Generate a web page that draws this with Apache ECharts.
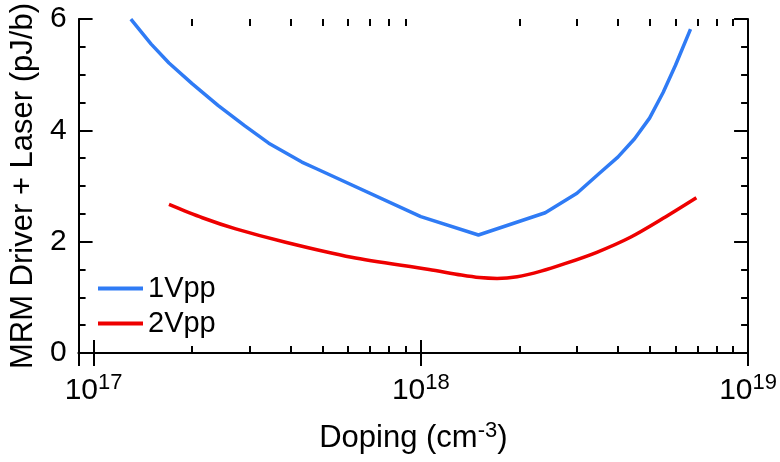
<!DOCTYPE html>
<html>
<head>
<meta charset="utf-8">
<script src="https://cdn.jsdelivr.net/npm/echarts@6/dist/echarts.min.js"></script>
<style>html,body{margin:0;padding:0;background:#fff}#c{width:780px;height:462px}</style>
</head>
<body>
<div id="c"></div>
<script>
// ---- data ----
const doping1Vpp = [1.3e17, 1.5e17, 1.7e17, 2.0e17, 2.4e17, 2.9e17, 3.43e17, 4.33e17, 4.8e17, 1.0e18, 1.5e18, 2.4e18, 3.0e18, 3.5e18, 4.0e18, 4.5e18, 5.0e18, 5.5e18, 6.0e18, 6.67e18];
const energy1Vpp = [6.0, 5.55, 5.21, 4.84, 4.45, 4.08, 3.77, 3.43, 3.31, 2.45, 2.12, 2.52, 2.87, 3.22, 3.52, 3.85, 4.22, 4.68, 5.17, 5.82];
const doping2Vpp = [1.70e17, 2.15e17, 2.72e17, 3.86e17, 6.14e17, 1.06e18, 1.33e18, 1.51e18, 1.71e18, 1.97e18, 2.33e18, 2.74e18, 3.45e18, 4.37e18, 5.5e18, 6.95e18];
const energy2Vpp = [2.67, 2.43, 2.23, 1.99, 1.72, 1.50, 1.40, 1.355, 1.34, 1.37, 1.47, 1.60, 1.81, 2.08, 2.42, 2.79];
const seriesNames = ['1Vpp', '2Vpp'];
const xMin = 9e16, xMax = 1e19;
const yMin = 0, yMax = 6, yStep = 2;
const xMinorMantissas = [2, 3, 4, 5, 6, 7, 8, 9];
const xMinorDecades = [17, 18];
const xTitle = 'Doping (cm{s|-3})';
const yTitle = 'MRM Driver + Laser (pJ/b)';

const FONT = "'Liberation Sans', Arial, Helvetica, sans-serif";
const minorLog = [];
xMinorDecades.forEach(d => xMinorMantissas.forEach(m => minorLog.push(Math.log10(m) + d)));

function pair(xs, ys) { return xs.map((x, i) => [x, ys[i]]); }

const lineAxis = { show: true, lineStyle: { color: '#000', width: 2 } };
const majorX = (pos, labels) => ({
  type: 'log', position: pos, min: xMin, max: xMax, logBase: 10,
  axisLine: lineAxis,
  axisTick: { show: true, inside: true, length: 13, lineStyle: { color: '#000', width: 2 } },
  splitLine: { show: false },
  axisLabel: labels ? {
    show: true, margin: 19, showMinLabel: false, color: '#000', fontFamily: FONT,
    formatter: v => {
      const e = Math.round(Math.log10(v));
      if (Math.abs(v / Math.pow(10, e) - 1) > 1e-6) return '';
      return '{b|10}{s|' + e + '}';
    },
    rich: {
      b: { fontSize: 30, fontFamily: FONT, color: '#000', verticalAlign: 'bottom' },
      s: { fontSize: 22, fontFamily: FONT, color: '#000', verticalAlign: 'bottom', padding: [0, 0, 12, 0] }
    }
  } : { show: false },
  name: labels ? xTitle : '', nameLocation: 'middle', nameGap: 67,
  nameTextStyle: {
    fontSize: 31, fontFamily: FONT, color: '#000',
    rich: {
      s: { fontSize: 22, fontFamily: FONT, color: '#000', verticalAlign: 'bottom', padding: [0, 0, 14, 0] }
    }
  }
});
const minorX = (pos) => ({
  type: 'value', position: pos, min: Math.log10(xMin), max: Math.log10(xMax),
  axisLine: { show: false },
  axisTick: { show: true, inside: true, length: 7, customValues: minorLog, lineStyle: { color: '#000', width: 2 } },
  axisLabel: { show: false },
  splitLine: { show: false }
});
const yAx = (pos, labels) => ({
  type: 'value', position: pos, min: yMin, max: yMax, interval: yStep,
  axisLine: lineAxis,
  axisTick: { show: true, inside: true, length: 14, lineStyle: { color: '#000', width: 2 } },
  minorTick: { show: true, splitNumber: 4, length: 7, lineStyle: { color: '#000', width: 2 } },
  splitLine: { show: false },
  axisLabel: labels ? { show: true, margin: 12, fontSize: 30, fontFamily: FONT, color: '#000' } : { show: false },
  name: labels ? yTitle : '', nameLocation: 'middle', nameGap: 37,
  nameTextStyle: { fontSize: 31, fontFamily: FONT, color: '#000' }
});

const chart = echarts.init(document.getElementById('c'), null, { renderer: 'canvas' });
chart.setOption({
  animation: false,
  backgroundColor: '#fff',
  grid: { left: 75, right: 31, top: 17, bottom: 109, containLabel: false },
  xAxis: [majorX('bottom', true), majorX('top', false), minorX('bottom'), minorX('top')],
  yAxis: [yAx('left', true), yAx('right', false)],
  legend: {
    orient: 'vertical', left: 93, top: 266, itemWidth: 45, itemHeight: 4, itemGap: 0,
    icon: 'rect',
    textStyle: { fontSize: 29, fontFamily: FONT, color: '#000', lineHeight: 35 },
    data: seriesNames
  },
  series: [
    { name: seriesNames[0], type: 'line', xAxisIndex: 0, yAxisIndex: 0, data: pair(doping1Vpp, energy1Vpp),
      showSymbol: false, symbol: 'none', lineStyle: { color: '#2F7BF5', width: 3.5 }, itemStyle: { color: '#2F7BF5' } },
    { name: seriesNames[1], type: 'line', xAxisIndex: 0, yAxisIndex: 0, data: pair(doping2Vpp, energy2Vpp), smooth: 0.3,
      showSymbol: false, symbol: 'none', lineStyle: { color: '#EE0000', width: 3.5 }, itemStyle: { color: '#EE0000' } }
  ]
});
</script>
</body>
</html>
